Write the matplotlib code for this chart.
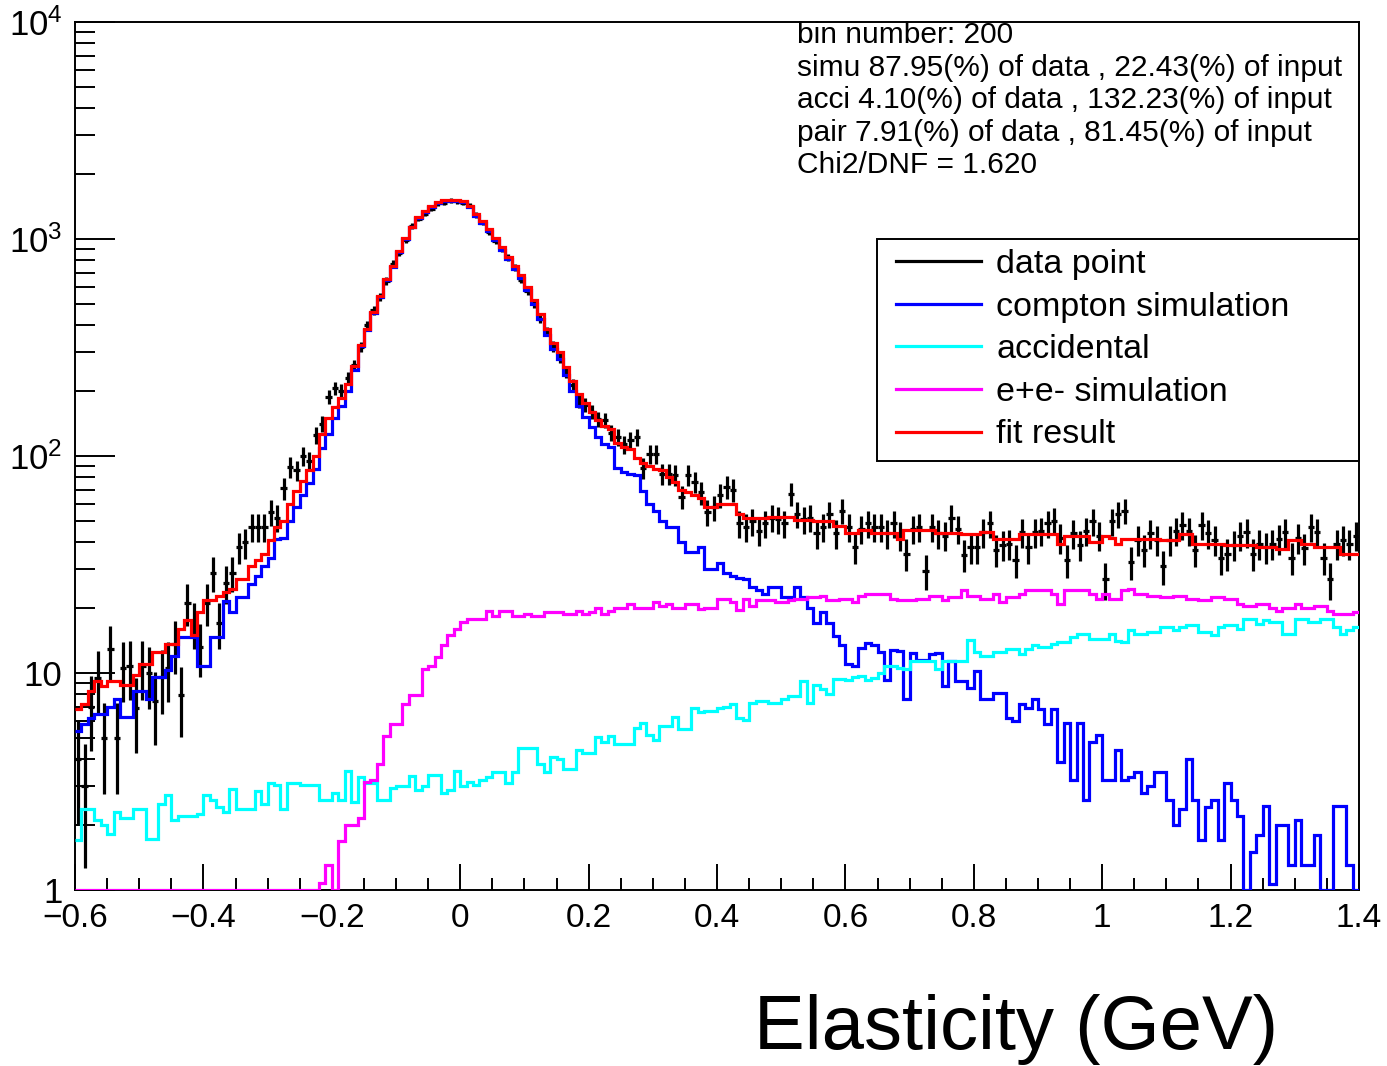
import numpy as np
import matplotlib
matplotlib.use("Agg")
import matplotlib.pyplot as plt
from matplotlib.lines import Line2D
from matplotlib.legend_handler import HandlerLine2D
from matplotlib.ticker import FixedLocator, FixedFormatter, LogLocator, MultipleLocator, NullFormatter

plt.rcParams['font.family'] = ['Liberation Sans', 'DejaVu Sans']
plt.rcParams['mathtext.fontset'] = 'custom'
plt.rcParams['mathtext.rm'] = 'Liberation Sans'
plt.rcParams['mathtext.it'] = 'Liberation Sans:italic'

# Histogram binning (bin number: 200)
x_lo, x_hi, n_bins = -0.6, 1.4, 200

# Bin contents, 20 bins per row
compton = [
    5.4, 5.8, 6.2, 6.5, 6.5, 7.0, 7.6, 6.3, 6.3, 8.3, 8.3, 7.6, 9.6, 9.6, 10.3, 12, 14.6, 14.6, 14.6, 10.8,
    10.8, 14.6, 14.6, 21.4, 19, 22.4, 22.4, 25.8, 28, 31, 34, 41.5, 42, 50, 58, 66, 75, 87, 109, 126,
    150, 170, 200, 250, 320, 380, 455, 540, 645, 740, 870, 1000, 1130, 1250, 1330, 1400, 1460, 1490, 1500, 1490,
    1480, 1400, 1280, 1190, 1090, 990, 890, 810, 730, 660, 580, 500, 430, 360, 310, 280, 235, 200, 170, 152,
    136, 122, 114, 110, 88, 84, 83, 82, 69, 60, 56, 50, 47, 47, 40, 36, 36, 38, 30, 30,
    32, 29, 28, 27.5, 27, 25, 24, 23, 25, 25, 22.5, 22.5, 25, 22.5, 20, 17, 19, 17, 14.8, 13.4,
    11, 10.8, 13, 13.8, 13.5, 12.5, 9.3, 12.8, 12.6, 7.6, 12.4, 11.5, 11.5, 12.2, 12.3, 8.7, 11.3, 9.2, 9.2, 8.5,
    10.2, 7.6, 7.6, 8.1, 8.1, 6.2, 6.0, 7.2, 6.9, 7.6, 6.8, 5.8, 6.8, 3.9, 5.9, 3.2, 5.9, 2.6, 4.8, 5.2,
    3.2, 3.2, 4.4, 3.2, 3.3, 3.5, 2.8, 3.0, 3.5, 3.5, 2.6, 2.0, 2.35, 4.0, 2.6, 1.7, 2.4, 2.6, 1.7, 3.1,
    2.6, 2.2, 0, 1.5, 1.8, 2.45, 1.07, 2.0, 2.0, 1.3, 2.1, 1.3, 1.3, 1.8, 0, 1.0, 2.45, 2.45, 1.3, 0,
]

accidental = [
    1.7, 2.37, 2.37, 2.1, 2.0, 1.82, 2.3, 2.15, 2.15, 2.37, 2.37, 1.72, 1.72, 2.5, 2.75, 2.1, 2.2, 2.2, 2.2, 2.25,
    2.75, 2.6, 2.4, 2.3, 2.93, 2.37, 2.37, 2.37, 2.85, 2.5, 3.1, 3.05, 2.37, 3.1, 3.1, 3.05, 3.05, 3.05, 2.6, 2.6,
    2.8, 2.6, 3.55, 2.55, 3.3, 3.1, 3.1, 2.6, 2.6, 2.95, 3.0, 3.0, 3.35, 2.9, 3.0, 3.4, 3.4, 2.8, 2.9, 3.55,
    3.0, 3.13, 3.05, 3.2, 3.3, 3.5, 3.5, 3.1, 3.5, 4.5, 4.5, 4.5, 3.8, 3.5, 4.1, 4.0, 3.6, 3.6, 4.4, 4.3,
    4.3, 5.05, 4.8, 5.1, 4.7, 4.7, 4.7, 5.6, 5.9, 5.2, 4.9, 5.7, 5.7, 6.25, 5.5, 5.5, 6.9, 6.6, 6.7, 6.7,
    6.9, 7.0, 7.2, 6.2, 6.1, 7.3, 7.4, 7.4, 7.3, 7.3, 7.6, 7.85, 7.85, 9.2, 7.3, 8.8, 8.4, 8.0, 9.4, 9.4,
    9.3, 9.6, 9.7, 9.3, 9.5, 10.0, 10.8, 10.8, 10.6, 10.4, 11.4, 11.4, 11.4, 11.4, 10.4, 11.4, 11.4, 11.4, 11.4, 14.2,
    12.5, 12.0, 12.0, 12.5, 12.5, 12.9, 12.9, 12.2, 12.9, 13.4, 13.2, 13.2, 13.6, 13.9, 13.9, 14.6, 15.2, 15.2, 14.4, 14.4,
    14.4, 15.2, 14.0, 13.9, 15.7, 15.2, 15.2, 15.4, 15.4, 16.3, 16.3, 15.7, 16.3, 16.6, 16.6, 15.4, 15.4, 14.9, 16.3, 16.6,
    16.6, 16.0, 17.8, 17.8, 16.9, 17.5, 17.2, 17.2, 15.2, 15.2, 17.8, 17.8, 17.2, 17.2, 17.8, 17.8, 16.3, 15.2, 15.7, 16.3,
]

pair = [
    0, 0, 0, 0, 0, 0, 0, 0, 0, 0, 0, 0, 0, 0, 0, 0, 0, 0, 0, 0,
    0, 0, 0, 0, 0, 0, 0, 0, 0, 0, 0, 0, 0, 0, 0, 0, 0, 0, 1.08, 1.3,
    0, 1.69, 2.0, 2.0, 2.15, 3.16, 3.2, 3.8, 5.1, 5.8, 5.8, 7.2, 7.9, 7.9, 10.4, 10.8, 11.9, 13.4, 14.9, 16.0,
    17.1, 17.8, 17.8, 17.8, 19.4, 18.4, 19.4, 19.4, 18.4, 18.4, 18.7, 18.4, 18.4, 19.1, 19.1, 19.1, 18.7, 18.7, 19.4, 18.7,
    19.1, 20.0, 18.7, 19.4, 20.0, 20.0, 20.9, 20.0, 20.0, 20.0, 21.2, 20.4, 20.9, 20.0, 20.0, 20.9, 20.9, 19.7, 20.0, 20.0,
    22.0, 22.0, 21.2, 19.5, 22.0, 20.4, 21.6, 21.6, 21.6, 21.2, 21.2, 21.6, 22.0, 22.0, 22.4, 22.4, 22.7, 21.6, 21.6, 22.0,
    22.0, 21.2, 22.7, 23.2, 23.2, 23.2, 23.2, 22.0, 21.6, 21.6, 21.6, 22.0, 22.0, 22.7, 22.7, 21.6, 22.4, 22.4, 24.0, 22.7,
    22.7, 22.0, 22.0, 23.2, 21.2, 22.4, 22.4, 23.2, 24.0, 24.0, 24.0, 24.0, 23.2, 20.9, 24.0, 24.0, 24.0, 24.0, 23.2, 22.0,
    23.2, 22.0, 22.0, 24.0, 24.4, 23.2, 23.2, 22.7, 22.7, 22.4, 22.4, 22.7, 22.7, 22.0, 22.0, 21.6, 21.6, 22.4, 22.4, 22.0,
    22.0, 20.9, 20.4, 20.4, 20.9, 20.9, 20.0, 19.4, 20.0, 20.0, 20.9, 20.0, 20.0, 20.4, 20.4, 19.4, 18.7, 18.7, 18.7, 19.1,
]

fit = [
    6.85, 7.2, 8.3, 9.2, 8.7, 9.2, 9.2, 8.8, 8.8, 9.8, 11.0, 11.0, 12.5, 12.5, 13.6, 13.6, 15.9, 17.5, 15.0, 19.1,
    21.6, 21.6, 22.7, 23.5, 24.4, 27, 27, 31, 33, 35.5, 41, 47, 50, 60, 69, 77, 86, 100, 126, 150,
    168, 185, 215, 260, 326, 386, 461, 546, 653, 749, 879, 1010, 1141, 1261, 1343, 1414, 1475, 1506, 1518, 1509,
    1500, 1420, 1300, 1210, 1115, 1010, 915, 830, 752, 683, 603, 523, 452, 383, 333, 303, 257, 222, 194, 175,
    159, 147, 138, 133, 115, 110, 108, 98, 93, 90, 87, 86, 80, 76, 70, 68, 66, 64, 58, 58,
    60, 60, 60, 54, 52, 52, 52, 52, 52.5, 52.5, 52.5, 52.5, 50.5, 50.5, 50.5, 50, 50, 50, 47.5, 47.5,
    44, 44, 45.5, 45.5, 44, 44, 44, 44, 41.5, 45.5, 45.5, 45.5, 45.5, 45.5, 44, 44, 44, 44, 43.8, 43.8,
    43.8, 44.5, 44.5, 41.5, 41.5, 41.5, 41.5, 43.8, 43.8, 43.8, 43.8, 43.8, 43.8, 39.5, 43, 43, 43, 43, 40, 40,
    43, 42, 39.5, 41.5, 41.5, 41.5, 41.5, 41.5, 41.5, 40.8, 40.8, 40.8, 43.8, 43.8, 39.5, 39.5, 39.5, 39.5, 39.5, 38.7,
    38.7, 38.7, 38.7, 38.7, 38, 38, 38, 37.3, 37.3, 40.8, 40.8, 39.5, 39.5, 38, 38, 38, 38, 35.5, 35.5, 35.5,
]

data = [
    4.0, 3.0, 7.0, 9.5, 5.0, 12.9, 5.0, 10.6, 10.8, 6.9, 10.8, 10.0, 7.4, 9.6, 10.6, 13.6, 7.9, 21, 17, 13.2,
    21, 29, 17, 26, 29, 38, 40, 47, 47, 47, 55, 52, 71, 89, 86, 100, 95, 125, 141, 187,
    205, 200, 228, 262, 318, 400, 470, 540, 640, 770, 860, 990, 1150, 1240, 1310, 1380, 1460, 1470, 1500, 1490,
    1470, 1420, 1290, 1190, 1080, 980, 900, 820, 740, 650, 575, 505, 430, 375, 320, 285, 245, 212, 180, 172,
    160, 148, 146, 128, 122, 113, 118, 122, 88, 102, 102, 83, 83, 82, 65, 82, 76, 68, 55, 58,
    66, 72, 70, 49, 47, 50, 45, 49, 52, 51, 49, 67, 54, 51, 52, 44, 47, 54, 44, 56,
    47, 38, 46, 49, 47, 47, 44, 49, 43, 35.5, 46, 47, 29.5, 47, 44, 43, 52, 46, 35, 38,
    38, 44.5, 49, 37, 39, 39.5, 33, 44.5, 38, 44.5, 45, 49, 50.4, 42, 33, 44, 39, 45, 50, 43,
    27, 50, 54, 56, 32.5, 41, 37, 44, 41, 31, 41, 45, 48, 45, 37, 48, 44, 41, 34, 35.5,
    39, 43, 44.5, 35.5, 39.5, 38, 39.5, 41.5, 44.5, 34, 42, 37.5, 47, 44.5, 34, 27, 39.5, 41, 39.5, 43,
]

legend_labels = ['data point', 'compton simulation', 'accidental', 'e+e- simulation', 'fit result']
legend_colors = ['black', 'blue', 'cyan', 'magenta', 'red']

stats_lines = [
    'bin number: 200',
    'simu 87.95(%) of data , 22.43(%) of input',
    'acci 4.10(%) of data , 132.23(%) of input',
    'pair 7.91(%) of data , 81.45(%) of input',
    'Chi2/DNF = 1.620',
]

x_ticks = [-0.6, -0.4, -0.2, 0, 0.2, 0.4, 0.6, 0.8, 1, 1.2, 1.4]
x_tick_labels = ['\u22120.6', '\u22120.4', '\u22120.2', '0', '0.2', '0.4', '0.6', '0.8', '1', '1.2', '1.4']
y_ticks = [1, 10, 100, 1000, 10000]
y_tick_labels = ['1', '10', r'$10^{2}$', r'$10^{3}$', r'$10^{4}$']

edges = np.linspace(x_lo, x_hi, n_bins + 1)
centers = 0.5 * (edges[:-1] + edges[1:])
half_bin = 0.5 * (edges[1] - edges[0])
data = np.array(data)

fig = plt.figure(figsize=(13.87, 10.66), dpi=100)
ax = fig.add_axes([0.0541, 0.1651, 0.9257, 0.8143])
ax.set_yscale('log', nonpositive='clip')
ax.set_xlim(x_lo, x_hi)
ax.set_ylim(1, 1e4)

lw = 2.3
ax.errorbar(centers, data, yerr=np.sqrt(data), xerr=half_bin, fmt='none',
            ecolor='black', elinewidth=lw, capsize=0, zorder=2)

# empty bins are drawn on the axis minimum, as ROOT does
for vals, col in [(compton, 'blue'), (accidental, 'cyan'), (pair, 'magenta'), (fit, 'red')]:
    ax.stairs(np.maximum(vals, 1.0), edges, baseline=None, color=col, lw=lw, zorder=3)

ax.tick_params(which='both', direction='in', top=False, right=False, width=1.4)
ax.tick_params(axis='x', which='major', length=18.7, pad=9.5, labelsize=24)
ax.tick_params(axis='x', which='minor', length=8.6)
ax.tick_params(axis='y', which='major', length=28.8, pad=9, labelsize=25)
ax.tick_params(axis='y', which='minor', length=14.4)
ax.xaxis.set_major_locator(FixedLocator(x_ticks))
ax.xaxis.set_major_formatter(FixedFormatter(x_tick_labels))
ax.xaxis.set_minor_locator(MultipleLocator(0.05))
ax.yaxis.set_major_locator(FixedLocator(y_ticks))
ax.yaxis.set_major_formatter(FixedFormatter(y_tick_labels))
ax.yaxis.set_minor_locator(LogLocator(base=10, subs=np.arange(2, 10)))
ax.yaxis.set_minor_formatter(NullFormatter())
for sp in ax.spines.values():
    sp.set_linewidth(1.4)

handles = [Line2D([], [], color=c, lw=lw) for c in legend_colors]
leg = ax.legend(handles, legend_labels, loc='upper left',
                bbox_to_anchor=(0.6246, 0.4965, 0.3754, 0.2535), mode='expand',
                fontsize=24.5, handlelength=2.75, handletextpad=0.45, labelspacing=0.34,
                borderpad=0.3, borderaxespad=0, fancybox=False, framealpha=1, edgecolor='black',
                handler_map={Line2D: HandlerLine2D(xpad=0.25)})
leg.get_frame().set_linewidth(1.4)

fig.text(0.5746, 0.980, '\n'.join(stats_lines), ha='left', va='top', fontsize=21.5, linespacing=1.2)

ax.set_xlabel('Elasticity (GeV)', fontsize=54.7, ha='right')
ax.xaxis.set_label_coords(0.937, -0.12)

fig.savefig('out.png', dpi=100)
